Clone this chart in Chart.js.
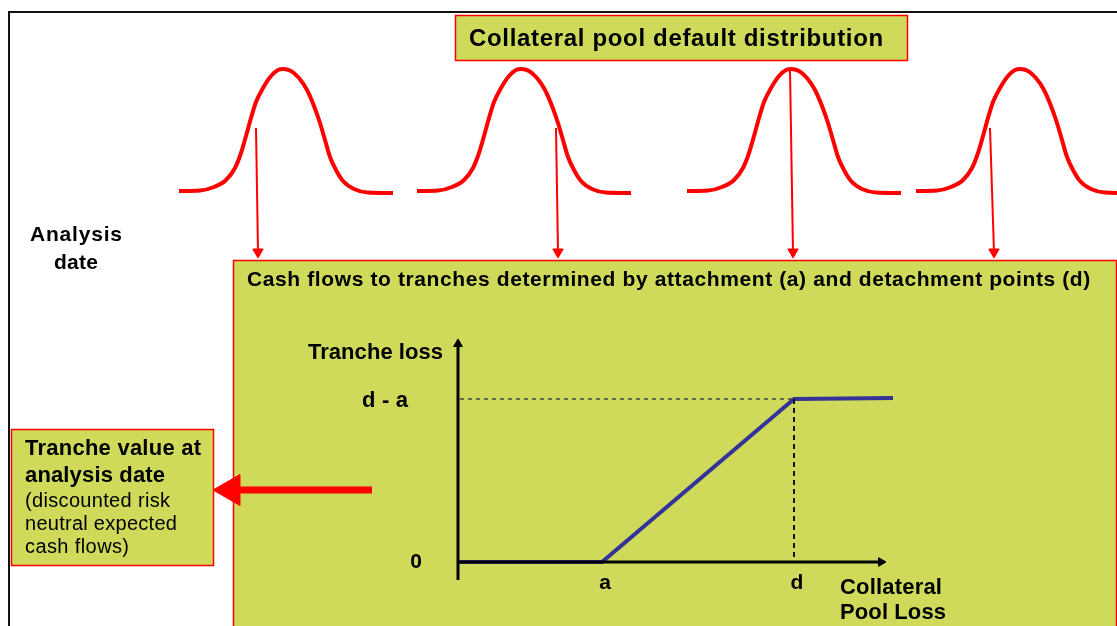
<!DOCTYPE html>
<html>
<head>
<meta charset="utf-8">
<script src="https://cdn.jsdelivr.net/npm/chart.js@4.4.1/dist/chart.umd.min.js"></script>
<style>
  html, body { margin: 0; padding: 0; background: #fff; }
  #wrap { width: 1117px; height: 626px; }
</style>
</head>
<body>
<div id="wrap"><canvas id="diagram" width="1117" height="626"></canvas></div>
<script>
// diagram units: x 0..1117 left to right, y 0..626 top to bottom

// one default distribution bell (offset from its peak, height)
const bellCenters = [283, 521, 791, 1020];
const bellOffsets = [-104, -83, -69, -57, -48, -42, -37, -32, -27, -20, -12, -5, 0, 8, 16, 24, 31, 37, 42, 47, 53, 60, 71, 85, 110];
const bellHeights = [191, 190.5, 187, 180, 168, 153, 136, 118, 102, 88, 76, 70, 69, 71, 78, 90, 106, 123, 140, 157, 170, 181, 189, 192.5, 193];

// red arrows from each distribution down to the cash flow box
const dropTopX = [256, 556, 790, 990];
const dropTopY = [128, 128, 70, 128];
const dropEndX = [258, 558, 793, 994];
const dropEndY = [252, 252, 252, 252];

// tranche loss payoff: pool loss 0, a, d, beyond
const poolLoss = [460, 602, 794, 893];
const trancheLoss = [562, 562, 399, 398];
const axisOriginX = 458;
const axisOriginY = 562;
const yAxisTop = 344;
const xAxisEnd = 880;

// value arrow back to the tranche value box
const valueArrowX = [372, 236];
const valueArrowY = [490, 490];

// boxes: title, cash flows, tranche value
const boxLeft = [455, 233, 11];
const boxTop = [15, 260, 429];
const boxRight = [907, 1116, 213];
const boxBottom = [60, 640, 565];

// frame round the slide
const frameX = [9, 9, 1117];
const frameY = [640, 12, 12];

const labelText = [
  'Collateral pool default distribution',
  'Analysis', 'date',
  'Cash flows to tranches determined by attachment (a) and detachment points (d)',
  'Tranche loss', 'd - a', '0', 'a', 'd',
  'Collateral', 'Pool Loss',
  'Tranche value at', 'analysis date',
  '(discounted risk', 'neutral expected', 'cash flows)'
];

const RED = '#ff0000';
const OLIVE = '#cfd95a';
const BLUE = '#333399';
const FONT = '"Liberation Sans", Arial, sans-serif';

// where each label goes: x, y, align, weight, size, width to fill
const labelPlace = [
  [469, 39, 'left', 'bold', 24, 414],
  [76, 235, 'center', 'bold', 21, 92],
  [76, 263, 'center', 'bold', 21, 44],
  [247, 280, 'left', 'bold', 21, 843],
  [443, 353, 'right', 'bold', 22, 135],
  [385, 401, 'center', 'bold', 22, 46],
  [416, 562, 'center', 'bold', 21, 12],
  [605, 583, 'center', 'bold', 21, 12],
  [797, 583, 'center', 'bold', 21, 13],
  [840, 588, 'left', 'bold', 22, 102],
  [840, 613, 'left', 'bold', 22, 106],
  [25, 449, 'left', 'bold', 22, 176],
  [25, 476, 'left', 'bold', 22, 140],
  [25, 501, 'left', 'normal', 20, 145],
  [25, 524, 'left', 'normal', 20, 152],
  [25, 547, 'left', 'normal', 20, 104]
];

const pts = (xs, ys) => xs.map((x, i) => ({ x: x, y: ys[i] }));

const line = (data, color, width, extra) => Object.assign({
  type: 'scatter',
  data: data,
  showLine: true,
  borderColor: color,
  backgroundColor: color,
  borderWidth: width,
  pointRadius: 0,
  fill: false
}, extra || {});

const heads = (data, color, radius, rotation) => ({
  type: 'scatter',
  data: data,
  pointStyle: 'triangle',
  pointRadius: radius,
  pointRotation: rotation,
  backgroundColor: color,
  borderColor: color,
  borderWidth: 1,
  showLine: false
});

const datasets = [];

// frame
datasets.push(line(pts(frameX, frameY), '#111', 2));

// bell curves
bellCenters.forEach((c) => {
  const xs = bellOffsets.map((dx) => c + dx);
  datasets.push(line(pts(xs, bellHeights), RED, 4, { cubicInterpolationMode: 'monotone' }));
});

// drop arrows
dropTopX.forEach((x, i) => {
  datasets.push(line(pts([x, dropEndX[i]], [dropTopY[i], dropEndY[i]]), RED, 2));
});
datasets.push(heads(pts(dropEndX, dropEndY), RED, 6, 180));

// tranche chart: dashed guides
datasets.push(line(pts([axisOriginX + 2, poolLoss[2]], [trancheLoss[2], trancheLoss[2]]), '#444', 1.5, { borderDash: [4, 4] }));
datasets.push(line(pts([poolLoss[2], poolLoss[2]], [trancheLoss[2], axisOriginY]), '#111', 2, { borderDash: [5, 4] }));

// tranche chart axes
datasets.push(line(pts([axisOriginX, axisOriginX], [580, yAxisTop]), '#000', 3));
datasets.push(line(pts([axisOriginX, xAxisEnd], [axisOriginY, axisOriginY]), '#000', 3));
datasets.push(heads([{ x: axisOriginX, y: yAxisTop }], '#000', 5, 0));
datasets.push(heads([{ x: xAxisEnd + 1, y: axisOriginY }], '#000', 5, 90));

// payoff line
datasets.push(line(pts(poolLoss, trancheLoss), BLUE, 4));

// value arrow
datasets.push(line(pts(valueArrowX, valueArrowY), RED, 7));
datasets.push(heads([{ x: 231, y: valueArrowY[1] }], RED, 18, -90));

const boxPlugin = {
  id: 'boxes',
  beforeDatasetsDraw(chart) {
    const { ctx, scales: { x, y } } = chart;
    ctx.save();
    boxLeft.forEach((l, i) => {
      const x0 = Math.round(x.getPixelForValue(l)) + 0.5;
      const y0 = Math.round(y.getPixelForValue(boxTop[i])) + 0.5;
      const x1 = Math.round(x.getPixelForValue(boxRight[i])) + 0.5;
      const y1 = Math.round(y.getPixelForValue(boxBottom[i])) + 0.5;
      ctx.fillStyle = OLIVE;
      ctx.fillRect(x0, y0, x1 - x0, y1 - y0);
      ctx.strokeStyle = RED;
      ctx.lineWidth = 1.5;
      ctx.strokeRect(x0, y0, x1 - x0, y1 - y0);
    });
    ctx.restore();
  }
};

const textPlugin = {
  id: 'texts',
  afterDatasetsDraw(chart) {
    const { ctx, scales: { x, y } } = chart;
    ctx.save();
    ctx.fillStyle = '#000';
    ctx.textBaseline = 'middle';
    labelText.forEach((t, i) => {
      const [lx, ly, align, weight, size, width] = labelPlace[i];
      ctx.font = `${weight} ${size}px ${FONT}`;
      ctx.letterSpacing = '0px';
      const w = ctx.measureText(t).width;
      const extra = t.length > 1 ? (width - w) / (t.length - 1) : 0;
      ctx.letterSpacing = extra.toFixed(2) + 'px';
      ctx.textAlign = align;
      let px = x.getPixelForValue(lx);
      if (align === 'right') px += extra;
      if (align === 'center') px += extra / 2;
      ctx.fillText(t, px, y.getPixelForValue(ly));
    });
    ctx.restore();
  }
};

new Chart(document.getElementById('diagram'), {
  type: 'scatter',
  data: { datasets: datasets },
  options: {
    responsive: false,
    animation: false,
    devicePixelRatio: 1,
    events: [],
    layout: { padding: 0, autoPadding: false },
    plugins: {
      legend: { display: false },
      tooltip: { enabled: false }
    },
    scales: {
      x: { type: 'linear', min: 0, max: 1117, display: false },
      y: { type: 'linear', min: 0, max: 626, reverse: true, display: false }
    }
  },
  plugins: [boxPlugin, textPlugin]
});
</script>
</body>
</html>
